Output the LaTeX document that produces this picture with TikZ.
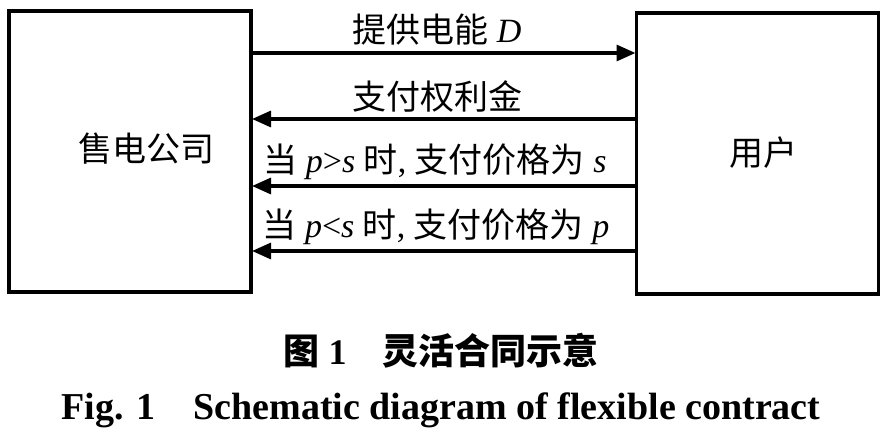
\documentclass[tikz,border=0pt]{standalone}
\usepackage{fontspec}
\setmainfont{Liberation Serif}
\newfontfamily\cjk{Noto Sans CJK SC}
\usetikzlibrary{arrows.meta}
\begin{document}
\begin{tikzpicture}[x=1pt,y=-1pt,
  box/.style={draw, line width=3.5pt, inner sep=0pt, outer sep=0pt, minimum width=242pt, minimum height=281pt},
  lbl/.style={font=\fontsize{34}{40}\selectfont, inner sep=0pt, anchor=center},
  captxt/.style={font=\fontsize{36}{42}\selectfont\bfseries, inner sep=0pt, anchor=center},
  arr/.style={line width=3.2pt, -{Triangle[length=19pt,width=16pt]}, shorten >=1pt}]
\useasboundingbox (0,0) rectangle (891,441);
\node[box] (L) at (130,151.5) {};
\node[box] (R) at (757.5,153.5) {};
\node[lbl] (Lt) at (146,149) {\cjk 售电公司};
\node[lbl] (Rt) at (763,153) {\cjk 用户};
\draw[arr] (L.east |- 0,53) -- (R.west |- 0,53);
\draw[arr] (R.west |- 0,119) -- (L.east |- 0,119);
\draw[arr] (R.west |- 0,186) -- (L.east |- 0,186);
\draw[arr] (R.west |- 0,251) -- (L.east |- 0,251);
\node[lbl] (a1) at (437,30) {{\cjk 提供电能} \textit{D}};
\node[lbl] (a2) at (437,97) {\cjk 支付权利金};
\node[lbl] (a3) at (435,162) {{\cjk 当} \textit{p}>\textit{s} {\cjk 时}, {\cjk 支付价格为} \textit{s}};
\node[lbl] (a4) at (436,227) {{\cjk 当} \textit{p}<\textit{s} {\cjk 时}, {\cjk 支付价格为} \textit{p}};
\node[captxt] (c1) at (441,351) {{\cjk 图} 1\quad{\cjk 灵活合同示意}};
\node[captxt, font=\fontsize{38}{44}\selectfont\bfseries] (c2) at (441,410) {Fig. 1\quad Schematic diagram of flexible contract};
\end{tikzpicture}
\end{document}
